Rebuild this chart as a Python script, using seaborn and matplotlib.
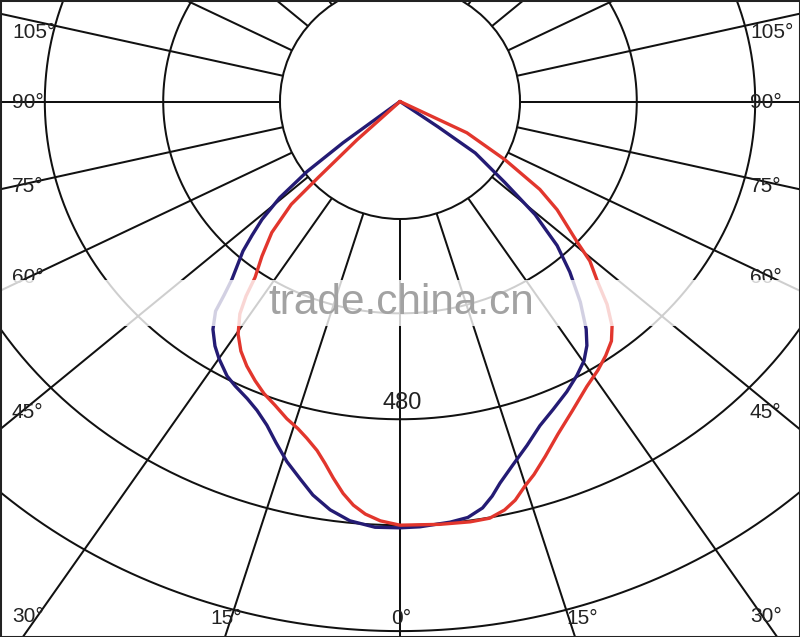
import numpy as np
import pandas as pd
import matplotlib
matplotlib.use("Agg")
import matplotlib.pyplot as plt
from matplotlib.patches import Ellipse, Rectangle
import seaborn as sns

# ---------------- data (luminous intensity, cd) ----------------
# left half (C180 side) and right half (C0 side), angles measured from nadir
blue_left_angle = [0.0, 3.0, 6.1, 8.7, 11.2, 13.3, 15.7, 18.0, 20.2, 22.5, 24.7, 27.4, 29.4,
                   32.2, 34.1, 36.3, 38.2, 39.1, 40.2, 43.2, 44.7, 46.3, 48.2, 49.9, 51.0, 90.0]
blue_left_cd = [644, 644, 637, 624, 606, 586, 565, 542, 521, 505, 494, 484, 476,
                459, 446, 427, 403, 377, 352, 310, 284, 258, 218, 164, 99, 0]
blue_right_angle = [0.0, 2.4, 6.1, 8.3, 10.3, 11.8, 13.2, 15.5, 18.3, 21.1, 24.0, 27.2, 30.0,
                    32.4, 34.4, 36.2, 38.8, 41.7, 44.3, 45.6, 46.9, 49.2, 52.6, 53.3, 90.0]
blue_right_cd = [644, 643, 639, 635, 624, 609, 592, 570, 547, 525, 509, 493, 478,
                 464, 447, 426, 389, 345, 304, 274, 250, 187, 128, 64, 0]
red_left_angle = [0.0, 2.4, 4.3, 5.9, 7.4, 9.0, 10.5, 12.0, 13.9, 15.6, 17.7, 20.2, 22.6,
                  24.9, 27.4, 29.7, 31.9, 34.0, 35.3, 36.4, 38.6, 41.2, 43.4, 43.9, 45.1, 90.0]
red_left_cd = [640, 634, 625, 613, 597, 576, 556, 539, 524, 513, 503, 489, 478,
               465, 450, 434, 414, 387, 360, 330, 299, 263, 214, 160, 82, 0]
red_right_angle = [0.0, 4.8, 8.5, 10.9, 12.9, 14.5, 16.2, 17.8, 20.1, 23.0, 26.5, 30.4, 33.4,
                   35.9, 38.3, 40.2, 42.4, 44.4, 46.8, 48.5, 52.4, 54.9, 58.2, 62.4, 90.0]
red_right_cd = [640, 641, 642, 641, 633, 622, 605, 592, 571, 546, 522, 499, 486,
                474, 461, 444, 415, 382, 352, 319, 268, 231, 167, 102, 0]

ring_values = [160, 320, 480, 640, 800]
ring_label = "480"
angle_labels_left = ["105°", "90°", "75°", "60°", "45°", "30°"]
angle_labels_bottom = ["15°", "0°", "15°"]
angle_labels_right = ["105°", "90°", "75°", "60°", "45°", "30°"]

BLUE = "#241b74"
RED = "#e2362d"

# ---------------- figure ----------------
W, H = 800, 637
CX, CY = 400.0, 101.5            # pole position in pixels (from top-left)
SX, SY = 0.74, 0.662             # pixels per cd, horizontal / vertical
LINE_STRETCH = 1.22 / (SX / SY)  # radial grid lines of the reference are a bit wider

sns.set_theme(style="white")
plt.rcParams["font.family"] = ["Liberation Sans", "DejaVu Sans"]

fig = plt.figure(figsize=(W / 100, H / 100), dpi=100)
ax = fig.add_axes([0, 0, 1, 1])


def curve_frame(la, lv, ra, rv):
    ang = np.concatenate([-np.array(la[::-1], float), np.array(ra, float)[1:]])
    val = np.concatenate([np.array(lv[::-1], float), np.array(rv, float)[1:]])
    t = np.radians(ang)
    return pd.DataFrame({"x": val * np.sin(t), "y": -val * np.cos(t)})


# grid rings
t = np.linspace(0, 2 * np.pi, 721)
for v in ring_values:
    ax.plot(v * np.sin(t), v * np.cos(t), color="#111111", lw=1.45, zorder=1)

# radial grid lines every 15 degrees
for a in range(0, 360, 15):
    r = np.radians(a)
    ax.plot([0, 3000 * np.sin(r) * LINE_STRETCH], [0, -3000 * np.cos(r)],
            color="#111111", lw=1.45, zorder=1)

# central blank disk
ax.add_patch(Ellipse((0, 0), 2 * 120 / SX, 2 * 117.5 / SY, facecolor="white",
                     edgecolor="#111111", lw=1.45, zorder=2))

# curves
sns.lineplot(data=curve_frame(blue_left_angle, blue_left_cd, blue_right_angle, blue_right_cd),
             x="x", y="y", sort=False, estimator=None, color=BLUE, lw=2.4, ax=ax, zorder=3)
sns.lineplot(data=curve_frame(red_left_angle, red_left_cd, red_right_angle, red_right_cd),
             x="x", y="y", sort=False, estimator=None, color=RED, lw=2.4, ax=ax, zorder=3)
ax.set_xlim(-CX / SX, (W - CX) / SX)
ax.set_ylim(-(H - CY) / SY, CY / SY)
ax.set_axis_off()

# ring label
ax.annotate(ring_label, xy=(0, -float(ring_label)), xytext=(2, 5), textcoords="offset pixels",
            ha="center", va="bottom", fontsize=17, color="#222222", zorder=4)


# angle labels (placed like the reference, at the picture border)
def px(x, y):
    return x / W, 1 - y / H


left_y = [32, 103, 187, 277, 413, 616]
for lab, yy in zip(angle_labels_left, left_y):
    fig.text(*px(12, yy), lab, ha="left", va="center", fontsize=15, color="#222222", zorder=4)
for lab, yy in zip(angle_labels_right, left_y):
    fig.text(*px(750, yy), lab, ha="left", va="center", fontsize=15, color="#222222", zorder=4)
for lab, xx in zip(angle_labels_bottom, [210, 391, 566]):
    fig.text(*px(xx, 619), lab, ha="left", va="center", fontsize=15, color="#222222", zorder=4)

# watermark band
fig.patches.append(Rectangle(px(0, 326), 1, 46 / H, transform=fig.transFigure,
                             facecolor="white", edgecolor="none", alpha=0.8, zorder=5))
fig.text(*px(401, 303), "trade.china.cn", ha="center", va="center", fontsize=30.5,
         color="#a2a2a2", zorder=6)

# frame
fig.patches.append(Rectangle((0, 0), 1, 1, transform=fig.transFigure, fill=False,
                             edgecolor="#222222", lw=2.2, zorder=7))

fig.savefig("out.png", dpi=100)
